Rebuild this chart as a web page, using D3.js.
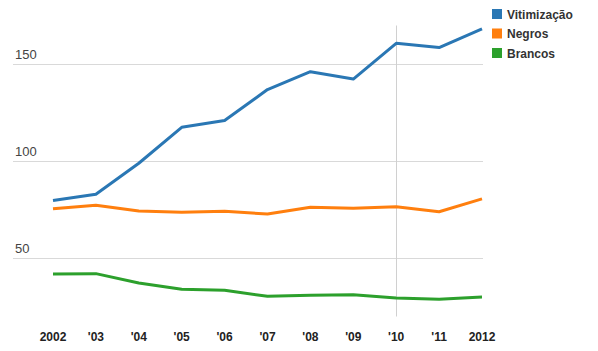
<!DOCTYPE html>
<html>
<head>
<meta charset="utf-8">
<script src="https://cdn.jsdelivr.net/npm/d3@7"></script>
<style>
	body { margin: 0; background: #fff; }
	svg { font-family: "Liberation Sans", Arial, sans-serif; }
	.y-label { font-size: 13px; fill: #444; }
	.x-label { font-size: 12px; fill: #222; font-weight: bold; }
	.legend text { font-size: 12px; fill: #333; font-weight: bold; }
</style>
</head>
<body>
<div id="chart"></div>
<script>

// Data
var years = [2002, 2003, 2004, 2005, 2006, 2007, 2008, 2009, 2010, 2011, 2012];
var yearLabels = ["2002", "'03", "'04", "'05", "'06", "'07", "'08", "'09", "'10", "'11", "2012"];
var seriesNames = ["Vitimização", "Negros", "Brancos"];
var vitimizacao = [79.8, 83, 99, 117.5, 121, 137, 146.2, 142.4, 160.8, 158.6, 168.3];
var negros = [75.6, 77.4, 74.4, 73.7, 74.2, 72.8, 76.3, 75.8, 76.6, 74, 80.6];
var brancos = [41.9, 42.1, 37.3, 34, 33.5, 30.4, 30.9, 31.2, 29.5, 28.9, 30];
var yTicks = [50, 100, 150];
var markedYear = 2010;

var colors = ["#2a77b4", "#ff7f0e", "#2ca02c"];

var width = 598, height = 351;

var svg = d3.select("#chart").append("svg")
	.attr("width", width)
	.attr("height", height);

// Scales
var x = d3.scaleLinear()
	.domain([2002, 2012])
	.range([53, 482]);

var y = d3.scaleLinear()
	.domain([20, 170])
	.range([316.5, 25.5]);

// gridlines + y labels
var grid = svg.append("g").attr("class", "grid");
grid.selectAll("line")
	.data(yTicks)
	.enter().append("line")
	.attr("x1", 13)
	.attr("x2", 483)
	.attr("y1", function (d) { return Math.round(y(d)) + 0.5; })
	.attr("y2", function (d) { return Math.round(y(d)) + 0.5; })
	.attr("stroke", "#d9d9d9")
	.attr("stroke-width", 1);

grid.selectAll("text")
	.data(yTicks)
	.enter().append("text")
	.attr("class", "y-label")
	.attr("x", 15)
	.attr("y", function (d) { return y(d) - 5; })
	.text(function (d) { return d; });

// vertical marker line
svg.append("line")
	.attr("x1", Math.round(x(markedYear)) + 0.5)
	.attr("x2", Math.round(x(markedYear)) + 0.5)
	.attr("y1", y(170))
	.attr("y2", y(20))
	.attr("stroke", "#d0d0d0")
	.attr("stroke-width", 1);

// x labels
svg.append("g").selectAll("text")
	.data(years)
	.enter().append("text")
	.attr("class", "x-label")
	.attr("x", function (d) { return x(d); })
	.attr("y", 341)
	.attr("text-anchor", "middle")
	.text(function (d, i) { return yearLabels[i]; });

// lines
var allSeries = [vitimizacao, negros, brancos];

var line = d3.line()
	.x(function (d, i) { return x(years[i]); })
	.y(function (d) { return y(d); });

svg.append("g").selectAll("path")
	.data(allSeries)
	.enter().append("path")
	.attr("d", function (d) { return line(d); })
	.attr("fill", "none")
	.attr("stroke", function (d, i) { return colors[i]; })
	.attr("stroke-width", 3)
	.attr("stroke-linejoin", "round");

// legend
var legend = svg.append("g").attr("class", "legend")
	.selectAll("g")
	.data(seriesNames)
	.enter().append("g")
	.attr("transform", function (d, i) { return "translate(492," + (9 + i * 19.5) + ")"; });

legend.append("rect")
	.attr("width", 10)
	.attr("height", 10)
	.attr("fill", function (d, i) { return colors[i]; });

legend.append("text")
	.attr("x", 15)
	.attr("y", 9.5)
	.text(function (d) { return d; });

</script>
</body>
</html>
